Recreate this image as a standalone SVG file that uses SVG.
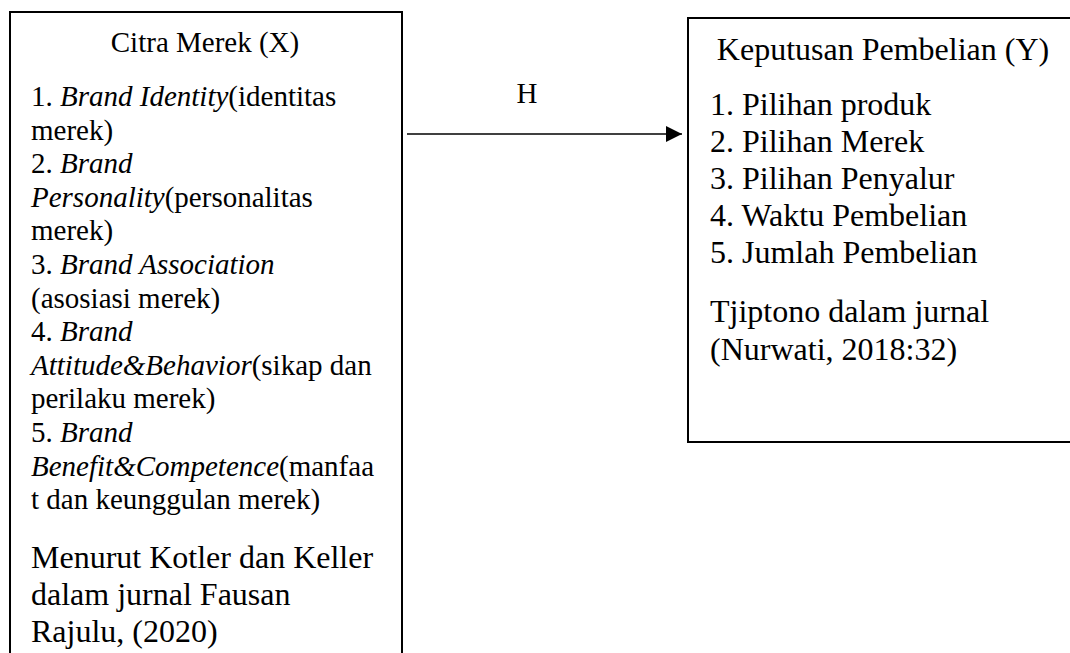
<svg xmlns="http://www.w3.org/2000/svg" width="1070" height="653" viewBox="0 0 1070 653">
<defs>
<style>
.box{fill:#fff;stroke:#000;stroke-width:2}
.t{font-family:"Liberation Serif","Times New Roman",serif;fill:#000}
.s{font-size:29px}
.l{font-size:32px}
.i{font-style:italic}
.c{text-anchor:middle}
</style>
<marker id="ah" viewBox="0 0 16 16" refX="16" refY="8" markerWidth="16" markerHeight="16" markerUnits="userSpaceOnUse" orient="auto">
<path d="M0,0 L16,8 L0,16 Z" fill="#000"/>
</marker>
</defs>
<rect width="1070" height="653" fill="#fff"/>
<g id="node-citra-merek">
<rect class="box" x="10" y="12" width="392" height="660"/>
<text class="t s c" x="205" y="52">Citra Merek (X)</text>
<text class="t s" x="31" y="106">1. <tspan class="i">Brand Identity</tspan>(identitas</text>
<text class="t s" x="31" y="139.6">merek)</text>
<text class="t s" x="31" y="173.2">2. <tspan class="i">Brand</tspan></text>
<text class="t s" x="31" y="206.8"><tspan class="i">Personality</tspan>(personalitas</text>
<text class="t s" x="31" y="240.4">merek)</text>
<text class="t s" x="31" y="274">3. <tspan class="i">Brand Association</tspan></text>
<text class="t s" x="31" y="307.6">(asosiasi merek)</text>
<text class="t s" x="31" y="341.2">4. <tspan class="i">Brand</tspan></text>
<text class="t s" x="31" y="374.8"><tspan class="i">Attitude&amp;Behavior</tspan>(sikap dan</text>
<text class="t s" x="31" y="408.4">perilaku merek)</text>
<text class="t s" x="31" y="442">5. <tspan class="i">Brand</tspan></text>
<text class="t s" x="31" y="475.6"><tspan class="i">Benefit&amp;Competence</tspan>(manfaa</text>
<text class="t s" x="31" y="509.2">t dan keunggulan merek)</text>
<text class="t l" x="31" y="568">Menurut Kotler dan Keller</text>
<text class="t l" x="31" y="605">dalam jurnal Fausan</text>
<text class="t l" x="31" y="642">Rajulu, (2020)</text>
</g>
<g id="node-keputusan">
<rect class="box" x="688" y="18" width="400" height="424"/>
<text class="t l c" x="883" y="60">Keputusan Pembelian (Y)</text>
<text class="t l" x="710" y="115">1. Pilihan produk</text>
<text class="t l" x="710" y="152">2. Pilihan Merek</text>
<text class="t l" x="710" y="189">3. Pilihan Penyalur</text>
<text class="t l" x="710" y="226">4. Waktu Pembelian</text>
<text class="t l" x="710" y="263">5. Jumlah Pembelian</text>
<text class="t l" x="710" y="322">Tjiptono dalam jurnal</text>
<text class="t l" x="710" y="360">(Nurwati, 2018:32)</text>
</g>
<g id="connectors">
<line x1="407" y1="134" x2="682" y2="134" stroke="#000" stroke-width="1.5" marker-end="url(#ah)"/>
<text class="t s c" x="527" y="103">H</text>
</g>
</svg>
